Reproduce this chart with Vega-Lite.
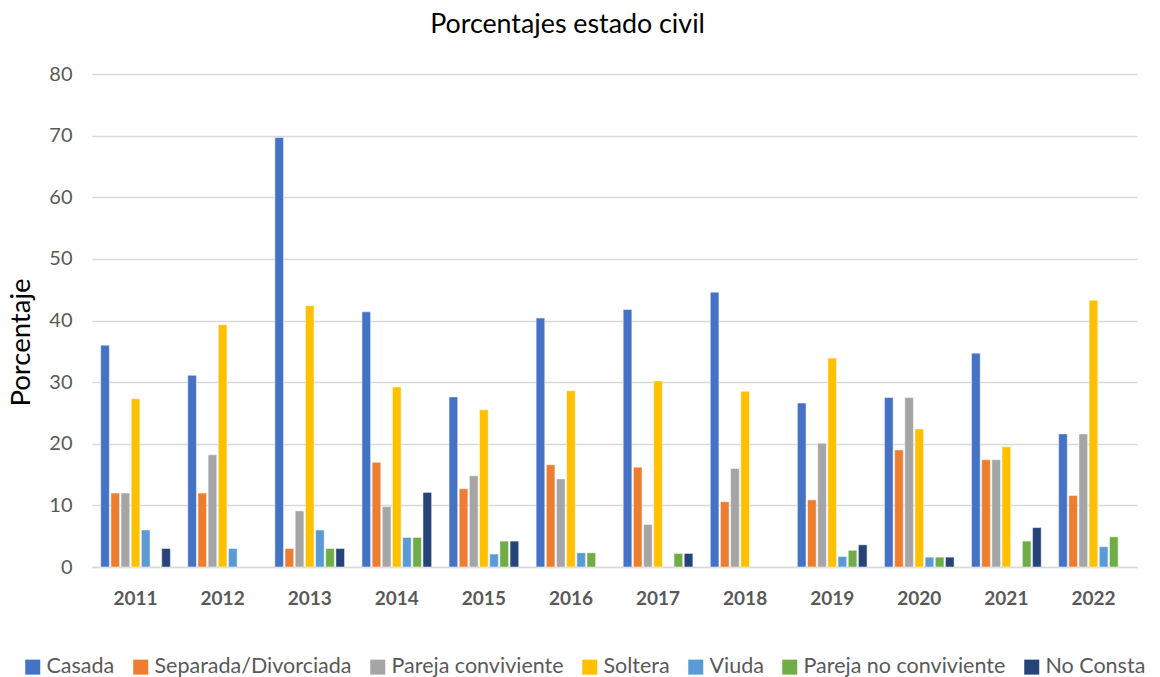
{
  "$schema": "https://vega.github.io/schema/vega-lite/v6.json",
  "autosize": {"type": "none"},
  "width": 1045,
  "height": 493,
  "padding": {"left": 92, "top": 74, "right": 23, "bottom": 110},
  "background": "#ffffff",
  "title": {
    "text": "Porcentajes estado civil",
    "font": "Lato",
    "fontSize": 26.8,
    "fontWeight": "normal",
    "color": "#000000",
    "anchor": "middle",
    "frame": "group",
    "dx": -47,
    "offset": 25
  },
  "data": {
    "values": [
      {"anio": "2011", "estado": "Casada", "valor": 36.0},
      {"anio": "2011", "estado": "Separada/Divorciada", "valor": 12.0},
      {"anio": "2011", "estado": "Pareja conviviente", "valor": 12.0},
      {"anio": "2011", "estado": "Soltera", "valor": 27.3},
      {"anio": "2011", "estado": "Viuda", "valor": 6.0},
      {"anio": "2011", "estado": "No Consta", "valor": 3.0},
      {"anio": "2012", "estado": "Casada", "valor": 31.1},
      {"anio": "2012", "estado": "Separada/Divorciada", "valor": 12.0},
      {"anio": "2012", "estado": "Pareja conviviente", "valor": 18.2},
      {"anio": "2012", "estado": "Soltera", "valor": 39.3},
      {"anio": "2012", "estado": "Viuda", "valor": 3.0},
      {"anio": "2013", "estado": "Casada", "valor": 69.7},
      {"anio": "2013", "estado": "Separada/Divorciada", "valor": 3.0},
      {"anio": "2013", "estado": "Pareja conviviente", "valor": 9.1},
      {"anio": "2013", "estado": "Soltera", "valor": 42.4},
      {"anio": "2013", "estado": "Viuda", "valor": 6.0},
      {"anio": "2013", "estado": "Pareja no conviviente", "valor": 3.0},
      {"anio": "2013", "estado": "No Consta", "valor": 3.0},
      {"anio": "2014", "estado": "Casada", "valor": 41.4},
      {"anio": "2014", "estado": "Separada/Divorciada", "valor": 17.0},
      {"anio": "2014", "estado": "Pareja conviviente", "valor": 9.8},
      {"anio": "2014", "estado": "Soltera", "valor": 29.2},
      {"anio": "2014", "estado": "Viuda", "valor": 4.8},
      {"anio": "2014", "estado": "Pareja no conviviente", "valor": 4.8},
      {"anio": "2014", "estado": "No Consta", "valor": 12.1},
      {"anio": "2015", "estado": "Casada", "valor": 27.6},
      {"anio": "2015", "estado": "Separada/Divorciada", "valor": 12.7},
      {"anio": "2015", "estado": "Pareja conviviente", "valor": 14.8},
      {"anio": "2015", "estado": "Soltera", "valor": 25.5},
      {"anio": "2015", "estado": "Viuda", "valor": 2.1},
      {"anio": "2015", "estado": "Pareja no conviviente", "valor": 4.2},
      {"anio": "2015", "estado": "No Consta", "valor": 4.2},
      {"anio": "2016", "estado": "Casada", "valor": 40.4},
      {"anio": "2016", "estado": "Separada/Divorciada", "valor": 16.6},
      {"anio": "2016", "estado": "Pareja conviviente", "valor": 14.3},
      {"anio": "2016", "estado": "Soltera", "valor": 28.6},
      {"anio": "2016", "estado": "Viuda", "valor": 2.3},
      {"anio": "2016", "estado": "Pareja no conviviente", "valor": 2.3},
      {"anio": "2017", "estado": "Casada", "valor": 41.8},
      {"anio": "2017", "estado": "Separada/Divorciada", "valor": 16.2},
      {"anio": "2017", "estado": "Pareja conviviente", "valor": 6.9},
      {"anio": "2017", "estado": "Soltera", "valor": 30.2},
      {"anio": "2017", "estado": "Pareja no conviviente", "valor": 2.2},
      {"anio": "2017", "estado": "No Consta", "valor": 2.2},
      {"anio": "2018", "estado": "Casada", "valor": 44.6},
      {"anio": "2018", "estado": "Separada/Divorciada", "valor": 10.6},
      {"anio": "2018", "estado": "Pareja conviviente", "valor": 16.0},
      {"anio": "2018", "estado": "Soltera", "valor": 28.5},
      {"anio": "2019", "estado": "Casada", "valor": 26.6},
      {"anio": "2019", "estado": "Separada/Divorciada", "valor": 10.9},
      {"anio": "2019", "estado": "Pareja conviviente", "valor": 20.1},
      {"anio": "2019", "estado": "Soltera", "valor": 33.9},
      {"anio": "2019", "estado": "Viuda", "valor": 1.7},
      {"anio": "2019", "estado": "Pareja no conviviente", "valor": 2.7},
      {"anio": "2019", "estado": "No Consta", "valor": 3.6},
      {"anio": "2020", "estado": "Casada", "valor": 27.5},
      {"anio": "2020", "estado": "Separada/Divorciada", "valor": 19.0},
      {"anio": "2020", "estado": "Pareja conviviente", "valor": 27.5},
      {"anio": "2020", "estado": "Soltera", "valor": 22.4},
      {"anio": "2020", "estado": "Viuda", "valor": 1.6},
      {"anio": "2020", "estado": "Pareja no conviviente", "valor": 1.6},
      {"anio": "2020", "estado": "No Consta", "valor": 1.6},
      {"anio": "2021", "estado": "Casada", "valor": 34.7},
      {"anio": "2021", "estado": "Separada/Divorciada", "valor": 17.4},
      {"anio": "2021", "estado": "Pareja conviviente", "valor": 17.4},
      {"anio": "2021", "estado": "Soltera", "valor": 19.5},
      {"anio": "2021", "estado": "Pareja no conviviente", "valor": 4.2},
      {"anio": "2021", "estado": "No Consta", "valor": 6.4},
      {"anio": "2022", "estado": "Casada", "valor": 21.6},
      {"anio": "2022", "estado": "Separada/Divorciada", "valor": 11.6},
      {"anio": "2022", "estado": "Pareja conviviente", "valor": 21.6},
      {"anio": "2022", "estado": "Soltera", "valor": 43.3},
      {"anio": "2022", "estado": "Viuda", "valor": 3.3},
      {"anio": "2022", "estado": "Pareja no conviviente", "valor": 4.9}
    ]
  },
  "mark": {"type": "bar", "stroke": "#ffffff", "strokeWidth": 0.8, "strokeOpacity": 0.6},
  "encoding": {
    "x": {
      "field": "anio",
      "type": "nominal",
      "scale": {"paddingInner": 0.2, "paddingOuter": 0.1},
      "axis": {
        "title": null,
        "labelAngle": 0,
        "labelFont": "Lato",
        "labelFontSize": 19,
        "labelFontWeight": "bold",
        "labelColor": "#595959",
        "labelPadding": 22,
        "ticks": false,
        "domain": true,
        "domainColor": "#d9d9d9",
        "domainWidth": 1.5
      }
    },
    "xOffset": {
      "field": "estado",
      "type": "nominal",
      "scale": {
        "domain": ["Casada", "Separada/Divorciada", "Pareja conviviente", "Soltera", "Viuda", "Pareja no conviviente", "No Consta"],
        "paddingInner": 0.15,
        "paddingOuter": 0
      }
    },
    "y": {
      "field": "valor",
      "type": "quantitative",
      "scale": {"domain": [0, 80]},
      "axis": {
        "title": "Porcentaje",
        "titleFont": "Lato",
        "titleFontSize": 27.5,
        "titleFontWeight": "normal",
        "titleColor": "#000000",
        "titleX": -57,
        "titleY": 268,
        "values": [0, 10, 20, 30, 40, 50, 60, 70, 80],
        "labelFont": "Lato",
        "labelFontSize": 20,
        "labelColor": "#595959",
        "labelPadding": 20,
        "ticks": false,
        "domain": false,
        "grid": true,
        "gridColor": "#d9d9d9",
        "gridWidth": 1.5
      }
    },
    "color": {
      "field": "estado",
      "type": "nominal",
      "scale": {
        "domain": ["Casada", "Separada/Divorciada", "Pareja conviviente", "Soltera", "Viuda", "Pareja no conviviente", "No Consta"],
        "range": ["#4472C4", "#ED7D31", "#A5A5A5", "#FFC000", "#5B9BD5", "#70AD47", "#264478"]
      },
      "legend": {
        "title": null,
        "orient": "none",
        "direction": "horizontal",
        "columns": 7,
        "legendX": -70,
        "legendY": 582,
        "symbolType": "square",
        "symbolSize": 225,
        "symbolStrokeWidth": 0,
        "symbolOpacity": 1,
        "labelFont": "Lato",
        "labelFontSize": 21.5,
        "labelColor": "#595959",
        "labelOffset": 3,
        "columnPadding": 15,
        "labelLimit": 400
      }
    }
  },
  "config": {
    "view": {"stroke": null}
  }
}
